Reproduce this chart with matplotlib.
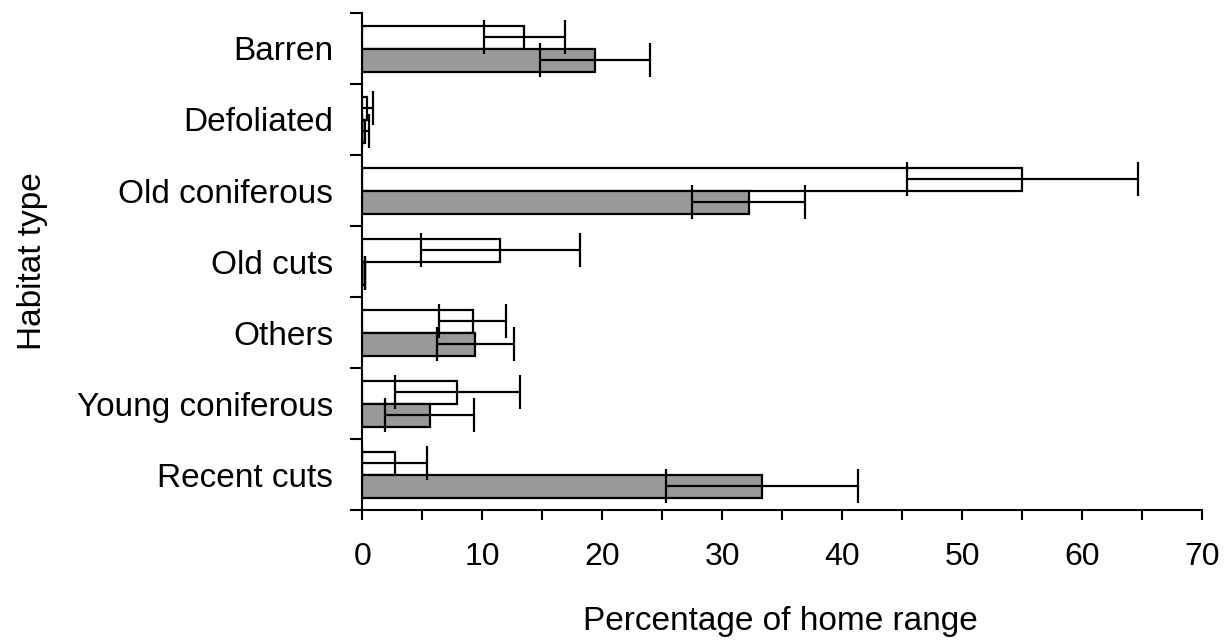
import matplotlib
matplotlib.use("Agg")
import matplotlib.pyplot as plt
import numpy as np

# habitat categories, top to bottom
habitats = ["Barren", "Defoliated", "Old coniferous", "Old cuts",
            "Others", "Young coniferous", "Recent cuts"]

# white bars (upper bar of each pair) and their error
white_vals = [13.5, 0.35, 55.0, 11.5, 9.2, 7.9, 2.7]
white_err = [3.4, 0.5, 9.6, 6.6, 2.8, 5.2, 2.7]

# grey bars (lower bar of each pair) and their error
grey_vals = [19.4, 0.25, 32.2, 0.2, 9.4, 5.6, 33.3]
grey_err = [4.6, 0.3, 4.7, 0.0, 3.2, 3.7, 8.0]

x_ticks = [0, 10, 20, 30, 40, 50, 60, 70]

plt.rcParams['font.family'] = ['Liberation Sans', 'DejaVu Sans']

fig = plt.figure(figsize=(12.25, 6.43), dpi=100)
ax = fig.add_axes([0.2959, 0.2068, 0.6857, 0.773])

y = np.arange(len(habitats))
h = 0.325
err_style = dict(ecolor='black', elinewidth=1.6, capsize=12, capthick=1.6)

ax.barh(y - 0.16, white_vals, height=h, color='white', edgecolor='black',
        linewidth=1.6, xerr=white_err, error_kw=err_style, zorder=2)
ax.barh(y + 0.165, grey_vals, height=h, color='#999999', edgecolor='black',
        linewidth=1.6, xerr=grey_err, error_kw=err_style, zorder=2)

ax.set_xlim(0, 70)
ax.set_ylim(len(habitats) - 0.5, -0.5)

ax.spines['top'].set_visible(False)
ax.spines['right'].set_visible(False)
ax.spines['left'].set_linewidth(1.5)
ax.spines['bottom'].set_linewidth(1.5)

ax.set_yticks(y)
ax.set_yticklabels(habitats, fontsize=24)
ax.set_yticks(np.arange(len(habitats) + 1) - 0.5, minor=True)
ax.tick_params(axis='y', which='major', length=0, pad=21)
ax.tick_params(axis='y', which='minor', length=9, width=1.5, direction='out')

ax.set_xticks(x_ticks)
ax.set_xticklabels([str(t) for t in x_ticks], fontsize=23)
ax.set_xticks(np.arange(5, 70, 10), minor=True)
ax.tick_params(axis='x', which='both', length=7, width=1.5, direction='out', pad=16)

ax.set_xlabel("Percentage of home range", fontsize=24)
ax.xaxis.set_label_coords(0.497, -0.193)
ax.set_ylabel("Habitat type", fontsize=24)
ax.yaxis.set_label_coords(-0.374, 0.5)

fig.savefig("out.png", dpi=100)
